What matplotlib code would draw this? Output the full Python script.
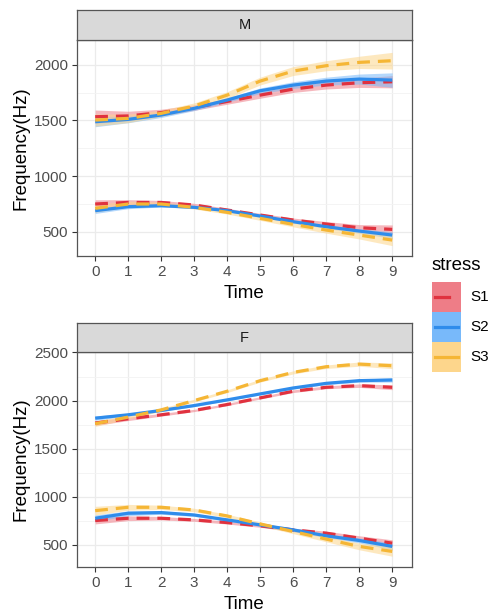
import matplotlib
matplotlib.use("Agg")
import matplotlib.pyplot as plt
import numpy as np
from matplotlib.patches import Rectangle
from matplotlib.lines import Line2D

plt.rcParams['font.family'] = ['Liberation Sans', 'DejaVu Sans']

time = [0, 1, 2, 3, 4, 5, 6, 7, 8, 9]
stress = ["S1", "S2", "S3"]

# Panel M
m_hi_s1 = [1533, 1540, 1570, 1615, 1670, 1727, 1781, 1817, 1838, 1847]
m_hi_s2 = [1488, 1509, 1548, 1608, 1683, 1766, 1817, 1853, 1871, 1862]
m_hi_s3 = [1503, 1518, 1563, 1629, 1727, 1853, 1943, 1991, 2021, 2036]
m_lo_s1 = [749, 763, 763, 740, 695, 650, 605, 569, 536, 521]
m_lo_s2 = [689, 725, 734, 719, 689, 641, 590, 545, 506, 470]
m_lo_s3 = [710, 749, 749, 719, 674, 620, 566, 515, 470, 425]
# ribbon half-widths
m_hi_s1_se = [60, 42, 30, 25, 25, 28, 30, 35, 42, 55]
m_hi_s2_se = [45, 30, 22, 20, 20, 25, 30, 35, 45, 65]
m_hi_s3_se = [55, 38, 28, 28, 30, 35, 40, 45, 55, 75]
m_lo_s1_se = [38, 25, 18, 15, 15, 15, 18, 22, 28, 40]
m_lo_s2_se = [25, 18, 12, 10, 10, 10, 12, 15, 20, 30]
m_lo_s3_se = [35, 25, 18, 15, 15, 18, 22, 28, 35, 50]

# Panel F
f_hi_s1 = [1766, 1810, 1852, 1897, 1959, 2028, 2097, 2138, 2155, 2138]
f_hi_s2 = [1817, 1852, 1897, 1948, 2007, 2069, 2131, 2179, 2207, 2214]
f_hi_s3 = [1759, 1828, 1903, 2000, 2097, 2207, 2293, 2352, 2379, 2362]
f_lo_s1 = [752, 776, 776, 759, 731, 697, 655, 621, 569, 517]
f_lo_s2 = [776, 828, 835, 810, 759, 707, 655, 593, 545, 483]
f_lo_s3 = [855, 890, 890, 862, 800, 717, 638, 559, 483, 431]
f_hi_s1_se = [25, 18, 14, 12, 12, 12, 14, 15, 18, 25]
f_hi_s2_se = [22, 16, 12, 10, 10, 10, 12, 14, 16, 22]
f_hi_s3_se = [28, 20, 15, 14, 14, 15, 16, 18, 22, 30]
f_lo_s1_se = [35, 25, 18, 15, 15, 15, 18, 20, 25, 35]
f_lo_s2_se = [35, 25, 18, 15, 15, 15, 18, 20, 25, 35]
f_lo_s3_se = [45, 30, 22, 18, 18, 20, 22, 28, 35, 50]

line_colors = {"S1": "#E0323F", "S2": "#2F8CEB", "S3": "#F5B635"}
fill_colors = {"S1": "#EE7D87", "S2": "#78B9FA", "S3": "#FDD68C"}
styles = {"S1": (0, (4, 2.5)), "S2": "solid", "S3": (0, (4, 2.5))}

panels = [
    ("M", [(m_hi_s1, m_hi_s1_se, m_lo_s1, m_lo_s1_se),
           (m_hi_s2, m_hi_s2_se, m_lo_s2, m_lo_s2_se),
           (m_hi_s3, m_hi_s3_se, m_lo_s3, m_lo_s3_se)],
     (282, 2222), [500, 1000, 1500, 2000], [750, 1250, 1750]),
    ("F", [(f_hi_s1, f_hi_s1_se, f_lo_s1, f_lo_s1_se),
           (f_hi_s2, f_hi_s2_se, f_lo_s2, f_lo_s2_se),
           (f_hi_s3, f_hi_s3_se, f_lo_s3, f_lo_s3_se)],
     (269, 2505), [500, 1000, 1500, 2000, 2500], [750, 1250, 1750, 2250]),
]

W, H = 491, 612
fig = plt.figure(figsize=(W / 100, H / 100), dpi=100)

def fr(x0, y0, x1, y1):
    return [x0 / W, 1 - y1 / H, (x1 - x0) / W, (y1 - y0) / H]

geom = [((77, 40, 412, 256), (77, 10, 412, 40)),
        ((77, 352, 412, 567), (77, 323, 412, 352))]

for (name, series, ylim, yt, ymt), (pbox, sbox) in zip(panels, geom):
    ax = fig.add_axes(fr(*pbox))
    ax.set_facecolor("white")
    for i, s in enumerate(stress):
        hi, hise, lo, lose = series[i]
        for y, se in ((hi, hise), (lo, lose)):
            y = np.array(y, float); se = np.array(se, float)
            ax.fill_between(time, y - se, y + se, color=fill_colors[s],
                            alpha=0.55, lw=0, zorder=2)
    for i, s in enumerate(stress):
        hi, hise, lo, lose = series[i]
        for y in (hi, lo):
            ax.plot(time, y, color=line_colors[s], lw=2.3, ls=styles[s],
                    zorder=3, solid_capstyle="butt", dash_capstyle="butt")
    ax.set_xlim(-0.55, 9.6)
    ax.set_ylim(*ylim)
    ax.set_xticks(time)
    ax.set_yticks(yt)
    ax.set_yticks(ymt, minor=True)
    ax.grid(which="major", color="#EBEBEB", lw=0.9, zorder=0)
    ax.grid(which="minor", axis="y", color="#F3F3F3", lw=0.6, zorder=0)
    ax.set_axisbelow(True)
    for sp in ax.spines.values():
        sp.set_color("#555555"); sp.set_linewidth(0.9)
    ax.tick_params(which="major", length=3.5, color="#333333", width=0.8,
                   labelsize=11, labelcolor="#4D4D4D", pad=3)
    ax.tick_params(which="minor", length=0)
    ax.set_xlabel("Time", fontsize=13.5, color="black", labelpad=4)
    ax.set_ylabel("Frequency(Hz)", fontsize=13.5, color="black", labelpad=3)

    sax = fig.add_axes(fr(*sbox))
    sax.set_facecolor("#D9D9D9")
    sax.set_xticks([]); sax.set_yticks([])
    for sp in sax.spines.values():
        sp.set_color("#555555"); sp.set_linewidth(0.9)
    sax.text(0.5, 0.5, name, ha="center", va="center", fontsize=10.5,
             color="#1A1A1A", transform=sax.transAxes)

# Legend
fig.text(432 / W, 1 - 265 / H, "stress", fontsize=13.5, va="center", ha="left")
for i, s in enumerate(stress):
    y0 = 282 + 30 * i
    fig.patches.append(Rectangle((432 / W, 1 - (y0 + 30) / H), 29 / W, 30 / H,
                                 transform=fig.transFigure,
                                 facecolor=fill_colors[s], edgecolor="none"))
    yc = 1 - (y0 + 15) / H
    if s == "S1":
        xs = [435 / W, 449 / W]
    else:
        xs = [435 / W, 458 / W]
    fig.lines.append(Line2D(xs, [yc, yc], transform=fig.transFigure,
                            color=line_colors[s], lw=2.3))
    fig.text(470 / W, yc, s, fontsize=11, va="center", ha="left", color="black")

fig.savefig("out.png", dpi=100)
